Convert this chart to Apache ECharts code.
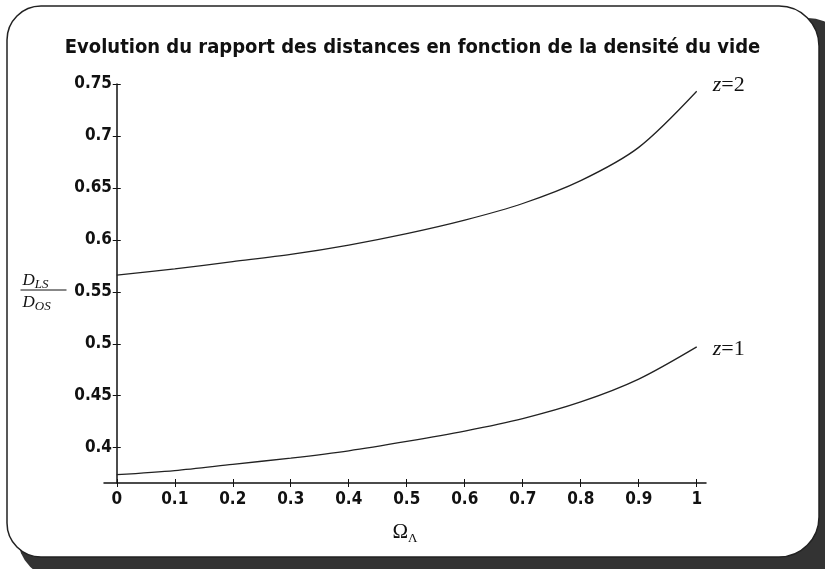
<!DOCTYPE html>
<html>
<head>
<meta charset="utf-8">
<script src="https://cdn.jsdelivr.net/npm/echarts@6/dist/echarts.min.js"></script>
<style>
  html, body { margin: 0; padding: 0; background: #fff; }
  #chart { width: 825px; height: 569px; }
</style>
</head>
<body>
<div id="chart"></div>
<script>
// values
const omegaL = [0, 0.1, 0.2, 0.3, 0.4, 0.5, 0.6, 0.7, 0.8, 0.9, 1];
const ratioZ2 = [0.566, 0.572, 0.579, 0.586, 0.595, 0.606, 0.619, 0.635, 0.657, 0.689, 0.743];
const ratioZ1 = [0.374, 0.378, 0.384, 0.390, 0.397, 0.406, 0.416, 0.428, 0.444, 0.466, 0.497];
const xTicks = [0, 0.1, 0.2, 0.3, 0.4, 0.5, 0.6, 0.7, 0.8, 0.9, 1];
const yTicks = [0.4, 0.45, 0.5, 0.55, 0.6, 0.65, 0.7, 0.75];

const titleFont = '"DejaVu Sans Condensed", "Liberation Sans Narrow", sans-serif';
const serif = '"Liberation Serif", "DejaVu Serif", serif';

const chart = echarts.init(document.getElementById("chart"));

function toPairs(xs, ys) {
  return xs.map((x, i) => [x, ys[i]]);
}

const zLabel = (z) => ({
  show: true,
  formatter: "{i|z}{n|=" + z + "}",
  distance: 16,
  rich: {
    i: { fontFamily: serif, fontStyle: "italic", fontSize: 22, color: "#111" },
    n: { fontFamily: serif, fontSize: 22, color: "#111" }
  }
});

const tickLabel = {
  formatter: (v) => String(v),
  color: "#111",
  fontFamily: titleFont,
  fontWeight: "bold",
  fontSize: 17
};

const option = {
  animation: false,
  backgroundColor: "#fff",
  title: {
    text: "Evolution du rapport des distances en fonction de la densité du vide",
    left: "center",
    top: 33,
    textStyle: {
      fontFamily: titleFont,
      fontWeight: "bold",
      fontSize: 20,
      color: "#111"
    }
  },
  grid: {
    left: 104,
    right: 119,
    top: 84,
    bottom: 86,
    outerBoundsMode: "none"
  },
  xAxis: [
    {
      type: "value",
      position: "bottom",
      min: -0.022,
      max: 1.016,
      splitLine: { show: false },
      axisLine: { onZero: false, lineStyle: { color: "#111", width: 1.5 } },
      axisTick: { customValues: xTicks, length: 4, lineStyle: { color: "#111" } },
      axisLabel: Object.assign({ customValues: xTicks, margin: 8 }, tickLabel),
      name: "{o|Ω}{s|Λ}",
      nameLocation: "middle",
      nameGap: 37,
      nameTextStyle: {
        rich: {
          o: { fontFamily: serif, fontSize: 21, color: "#111" },
          s: { fontFamily: serif, fontSize: 13, color: "#111", padding: [12, 0, 0, 0] }
        }
      }
    },
    {
      type: "value",
      position: "bottom",
      min: -0.022,
      max: 1.016,
      splitLine: { show: false },
      axisLine: { show: false, onZero: false },
      axisTick: { customValues: xTicks, inside: true, length: 4, lineStyle: { color: "#111" } },
      axisLabel: { show: false }
    }
  ],
  yAxis: [
    {
      type: "value",
      position: "left",
      min: 0.366,
      max: 0.75,
      splitLine: { show: false },
      axisLine: { onZero: true, lineStyle: { color: "#111", width: 1.5 } },
      axisTick: { customValues: yTicks, length: 4, lineStyle: { color: "#111" } },
      axisLabel: Object.assign({ customValues: yTicks, margin: -8 }, tickLabel)
    },
    {
      type: "value",
      position: "left",
      min: 0.366,
      max: 0.75,
      splitLine: { show: false },
      axisLine: { show: false, onZero: true },
      axisTick: { customValues: yTicks, inside: true, length: 4, lineStyle: { color: "#111" } },
      axisLabel: { show: false }
    }
  ],
  series: [
    {
      name: "z=2",
      type: "line",
      data: toPairs(omegaL, ratioZ2),
      smooth: 0.3,
      showSymbol: false,
      lineStyle: { color: "#222", width: 1.3 },
      endLabel: Object.assign(zLabel(2), { offset: [0, -6] })
    },
    {
      name: "z=1",
      type: "line",
      data: toPairs(omegaL, ratioZ1),
      smooth: 0.3,
      showSymbol: false,
      lineStyle: { color: "#222", width: 1.3 },
      endLabel: Object.assign(zLabel(1), { offset: [0, 2] })
    }
  ],
  graphic: [
    // shadowed rounded frame
    {
      type: "rect",
      z: -10,
      shape: { x: 18, y: 18, width: 830, height: 560, r: 40 },
      style: { fill: "#333" }
    },
    {
      type: "rect",
      z: -9,
      shape: { x: 7, y: 6, width: 812, height: 551, r: [34, 40, 40, 34] },
      style: { fill: "#fff", stroke: "#222", lineWidth: 1.5 }
    },
    // y axis name as a fraction
    {
      type: "group",
      left: 18,
      top: 272,
      children: [
        {
          type: "text",
          x: 2,
          y: 0,
          style: {
            text: "{d|D}{s|LS}",
            rich: {
              d: { fontFamily: serif, fontStyle: "italic", fontSize: 17, fill: "#111" },
              s: { fontFamily: serif, fontStyle: "italic", fontSize: 13, fill: "#111", padding: [8, 0, 0, 0] }
            }
          }
        },
        {
          type: "line",
          shape: { x1: 0, y1: 20, x2: 46, y2: 20 },
          style: { stroke: "#111", lineWidth: 1 }
        },
        {
          type: "text",
          x: 2,
          y: 22,
          style: {
            text: "{d|D}{s|OS}",
            rich: {
              d: { fontFamily: serif, fontStyle: "italic", fontSize: 17, fill: "#111" },
              s: { fontFamily: serif, fontStyle: "italic", fontSize: 13, fill: "#111", padding: [8, 0, 0, 0] }
            }
          }
        }
      ]
    }
  ]
};

chart.setOption(option);
</script>
</body>
</html>
